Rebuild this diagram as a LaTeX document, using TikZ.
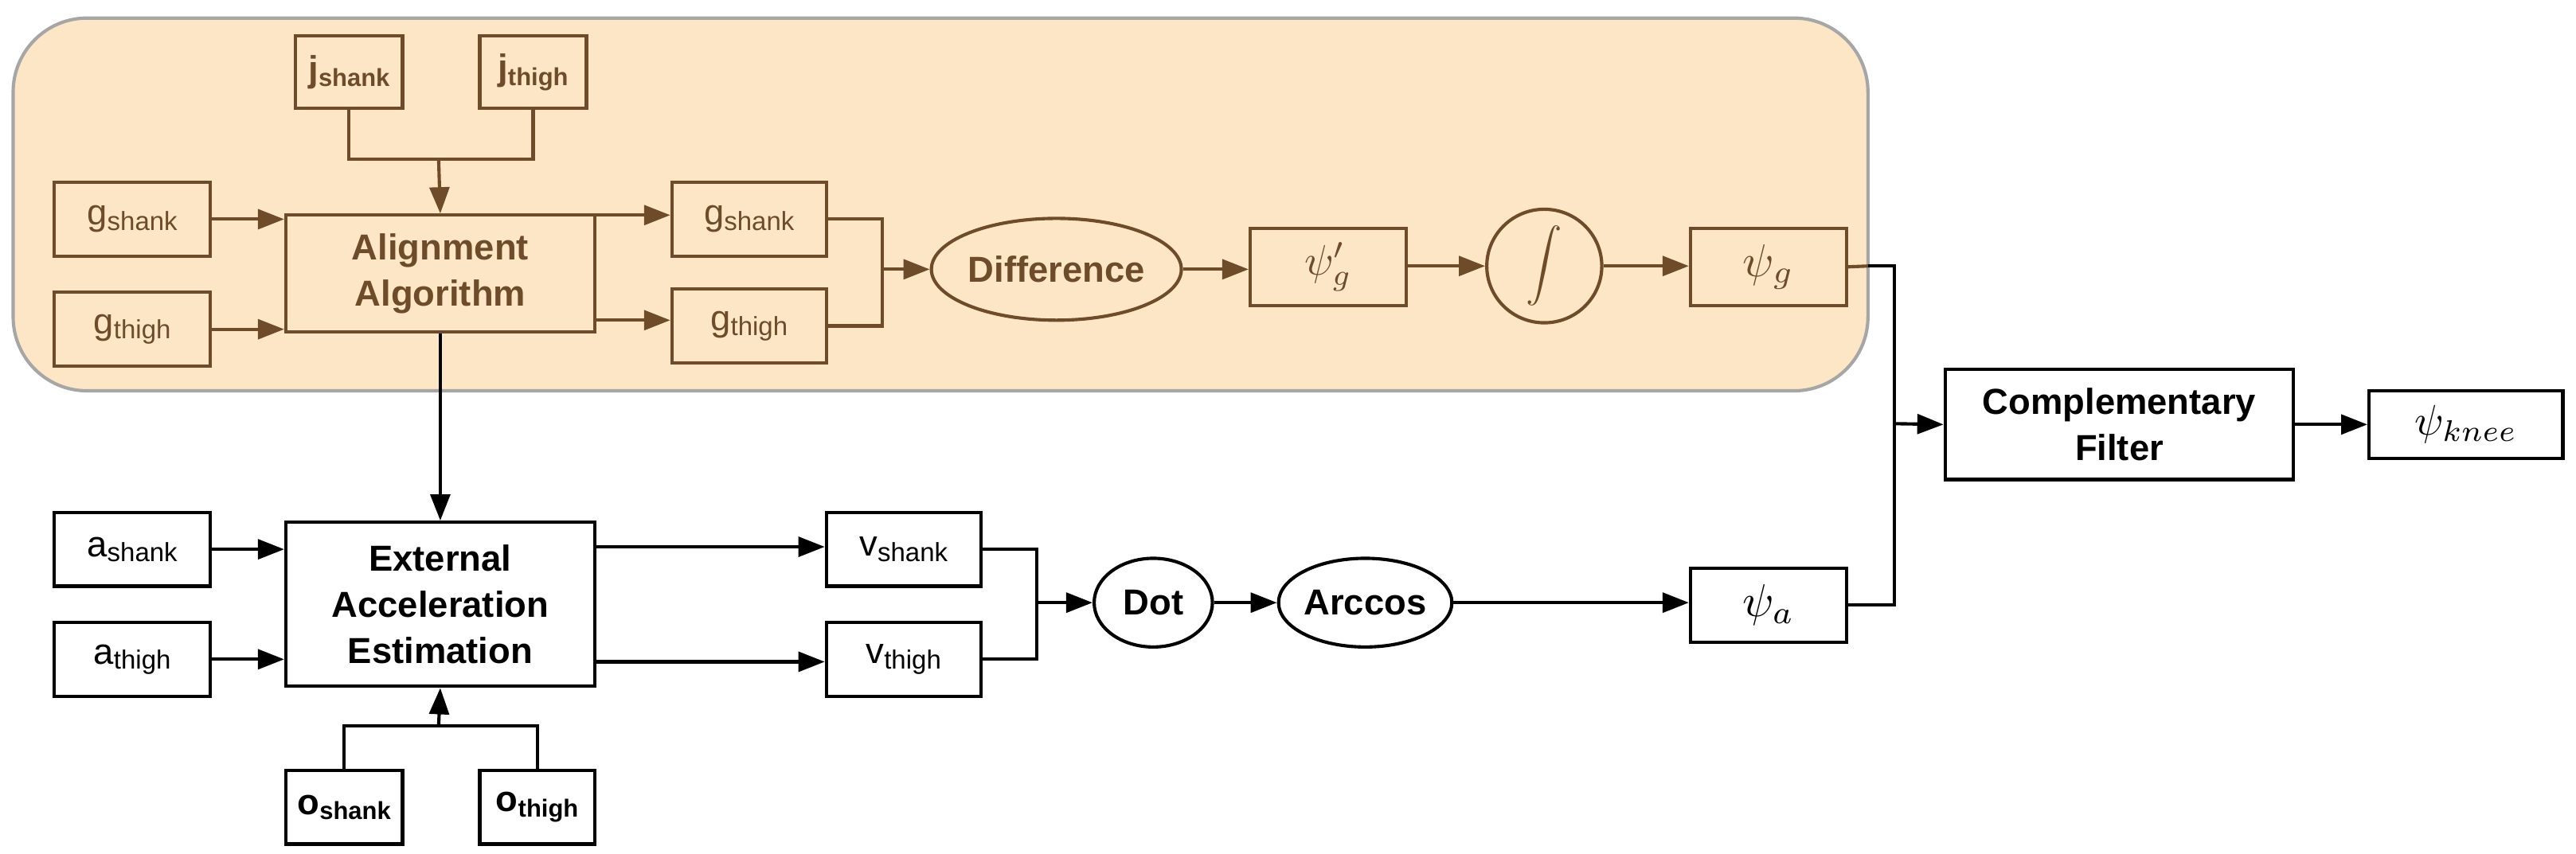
\documentclass[tikz,border=0pt]{standalone}
\usepackage{fontspec}
\setmainfont{Liberation Sans}
\usetikzlibrary{shapes.geometric,arrows.meta}
\definecolor{br}{HTML}{6E4C2A}
\definecolor{bg}{HTML}{FDE6C6}
\newcommand{\sub}[2]{{\fontsize{22}{22}\selectfont #1}{\fontsize{16}{16}\selectfont\raisebox{-3pt}{#2}}}
\newcommand{\bsub}[2]{{\bfseries\fontsize{22}{22}\selectfont #1}{\bfseries\fontsize{15}{15}\selectfont\raisebox{-3pt}{#2}}}
\newcommand{\scm}[2]{\scalebox{#1}{$#2$}}
\tikzset{
 x=1pt,y=-1pt,
 box/.style={draw,line width=2pt,inner sep=0pt,anchor=north west},
 ell/.style={draw,line width=2pt,ellipse,inner sep=0pt},
 arr/.style={line width=2pt,-{Triangle[length=16pt,width=12pt]}},
 ln/.style={line width=2pt},
 bb/.style={font=\bfseries\fontsize{22}{28}\selectfont,align=center}
}
\begin{document}
\begin{tikzpicture}
\useasboundingbox (0,0) rectangle (1568,519.6);
\fill[bg,draw=gray!70,line width=2pt,rounded corners=45pt] (8,11) rectangle (1137,238);
\begin{scope}[br,text=br]
\node[box,minimum width=65pt,minimum height=44pt] (js) at (179,21) {\bsub{j}{shank}};
\node[box,minimum width=65pt,minimum height=44pt] (jt) at (291,21) {\bsub{j}{thigh}};
\node[box,minimum width=95pt,minimum height=45pt] (gs1) at (32,110) {\sub{g}{shank}};
\node[box,minimum width=95pt,minimum height=45pt] (gt1) at (32,177) {\sub{g}{thigh}};
\node[box,minimum width=188pt,minimum height=71pt,bb] (al) at (173,130) {Alignment\\Algorithm};
\node[box,minimum width=94pt,minimum height=45pt] (gs2) at (408,110) {\sub{g}{shank}};
\node[box,minimum width=94pt,minimum height=45pt] (gt2) at (408,175) {\sub{g}{thigh}};
\node[ell,minimum width=142pt,minimum height=62pt,bb] (df) at (643,164) {Difference};
\node[box,minimum width=95pt,minimum height=47pt] (pgp) at (760,138) {\scm{2.6}{\psi_g'}};
\node[ell,minimum width=70pt,minimum height=66pt] (int) at (940,162) {\scm{2.2}{\displaystyle\int}};
\node[box,minimum width=95pt,minimum height=47pt] (pg) at (1028,138) {\scm{2.8}{\psi_g}};
\coordinate (jm) at (267,97);
\draw[ln] (js.south) |- (jm) -| (jt.south);
\draw[arr] (jm) -- (al.north);
\draw[arr] (gs1.east) -- (gs1.east -| al.west);
\draw[arr] (gt1.east) -- (gt1.east -| al.west);
\draw[arr] (al.east |- 0,131) -- (gs2.west |- 0,131);
\draw[arr] (al.east |- 0,195) -- (gt2.west |- 0,195);
\coordinate (gm) at (537,164);
\draw[ln] (gs2.east) -| (gm) |- (gt2.east);
\draw[arr] (gm) -- (df.west);
\draw[arr] (df.east) -- (pgp.west |- df.east);
\draw[arr] (pgp.east |- int.west) -- (int.west);
\draw[arr] (int.east) -- (pg.west |- int.east);
\end{scope}
\node[box,minimum width=212pt,minimum height=67pt,bb] (cf) at (1183,224) {Complementary\\Filter};
\node[box,minimum width=118pt,minimum height=41pt] (pk) at (1441,237) {\scm{2.6}{\psi_{knee}}};
\node[box,minimum width=95pt,minimum height=45pt] (as) at (32,311) {\sub{a}{shank}};
\node[box,minimum width=95pt,minimum height=45pt] (at) at (32,378) {\sub{a}{thigh}};
\node[box,minimum width=188pt,minimum height=100pt,bb] (ex) at (173,317) {External\\Acceleration\\Estimation};
\node[box,minimum width=94pt,minimum height=45pt] (vs) at (502,311) {\sub{v}{shank}};
\node[box,minimum width=94pt,minimum height=45pt] (vt) at (502,378) {\sub{v}{thigh}};
\node[ell,minimum width=72pt,minimum height=54pt,bb] (dot) at (702,367) {Dot};
\node[ell,minimum width=94pt,minimum height=54pt,bb] (acc) at (831,367) {Arccos};
\node[box,minimum width=95pt,minimum height=45pt] (pa) at (1028,345) {\scm{2.8}{\psi_a}};
\node[box,minimum width=71pt,minimum height=45pt] (os) at (173,468) {\bsub{o}{shank}};
\node[box,minimum width=70pt,minimum height=45pt] (ot) at (291,468) {\bsub{o}{thigh}};
\draw[arr] (al.south) -- (ex.north);
\draw[arr] (as.east) -- (as.east -| ex.west);
\draw[arr] (at.east) -- (at.east -| ex.west);
\draw[arr] (ex.east |- 0,333) -- (vs.west |- 0,333);
\draw[arr] (ex.east |- 0,403) -- (vt.west |- 0,403);
\coordinate (om) at (267,442);
\draw[ln] (os.north) |- (om) -| (ot.north);
\draw[arr] (om) -- (ex.south);
\coordinate (vm) at (631,367);
\draw[ln] (vs.east) -| (vm) |- (vt.east);
\draw[arr] (vm) -- (dot.west);
\draw[arr] (dot.east) -- (acc.west);
\draw[arr] (acc.east) -- (pa.west |- acc.east);
\coordinate (cm) at (1153,258);
\draw[ln,br] (pg.east) -- (1137,162);
\draw[ln] (1137,162) -| (cm) |- (pa.east);
\draw[arr] (cm) -- (cf.west);
\draw[arr] (cf.east) -- (pk.west);
\end{tikzpicture}
\end{document}
